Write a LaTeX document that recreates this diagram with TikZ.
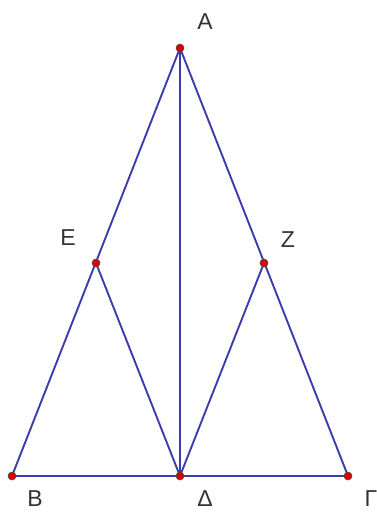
\documentclass[tikz,border=0pt]{standalone}
\usepackage{fontspec}
\setmainfont{Liberation Sans}
\begin{document}
\begin{tikzpicture}[x=1pt,y=-1pt,
  seg/.style={draw={rgb,255:red,60;green,60;blue,170}, line width=1.9pt},
  pt/.style={circle, fill=red!85!black, draw=black!70, line width=0.6pt, inner sep=0pt, minimum size=8pt},
  lab/.style={font=\fontsize{23}{26}\selectfont, text=black!80, inner sep=0pt}]
\useasboundingbox (0,0) rectangle (376,514);
\coordinate (A) at (180,48);
\coordinate (E) at (96,263);
\coordinate (Z) at (264,263);
\coordinate (B) at (12,476);
\coordinate (D) at (180,476);
\coordinate (G) at (348,476);
\draw[seg] (A) -- (B) -- (G) -- cycle;
\draw[seg] (A) -- (D);
\draw[seg] (E) -- (D) -- (Z);
\foreach \p in {A,E,Z,B,D,G} \node[pt] at (\p) {};
\node[lab] (lA) at (205,22) {A};
\node[lab] (lE) at (68,238) {E};
\node[lab] (lZ) at (288,240) {Z};
\node[lab] (lB) at (35,499) {B};
\node[lab] (lD) at (205,499) {Δ};
\node[lab] (lG) at (371,499) {Γ};
\end{tikzpicture}
\end{document}
